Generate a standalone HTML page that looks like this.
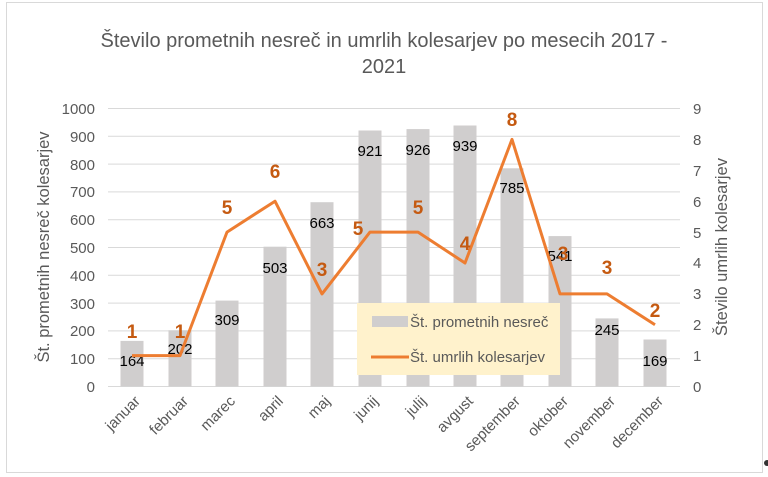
<!DOCTYPE html>
<html><head><meta charset="utf-8"><style>
body{margin:0;background:#fff;}
svg{display:block;font-family:"Liberation Sans",Calibri,sans-serif;}
</style></head><body>
<svg width="768" height="477" viewBox="0 0 768 477">
<rect x="6.5" y="2.5" width="756" height="470" fill="#fff" stroke="#d9d9d9"/>
<text x="384" y="47" text-anchor="middle" font-size="20" fill="#595959">Število prometnih nesreč in umrlih kolesarjev po mesecih 2017 -</text>
<text x="384" y="73" text-anchor="middle" font-size="20" fill="#595959">2021</text>
<g stroke="#d9d9d9" stroke-width="1">
<line x1="108" x2="680" y1="108.5" y2="108.5"/><line x1="108" x2="680" y1="136.3" y2="136.3"/><line x1="108" x2="680" y1="164.1" y2="164.1"/><line x1="108" x2="680" y1="191.9" y2="191.9"/><line x1="108" x2="680" y1="219.7" y2="219.7"/><line x1="108" x2="680" y1="247.5" y2="247.5"/><line x1="108" x2="680" y1="275.3" y2="275.3"/><line x1="108" x2="680" y1="303.1" y2="303.1"/><line x1="108" x2="680" y1="330.9" y2="330.9"/><line x1="108" x2="680" y1="358.7" y2="358.7"/><line x1="108" x2="680" y1="386.5" y2="386.5"/>
</g>
<g font-size="15" fill="#595959" text-anchor="end">
<text x="95" y="114">1000</text><text x="95" y="142">900</text><text x="95" y="170">800</text><text x="95" y="197">700</text><text x="95" y="225">600</text><text x="95" y="253">500</text><text x="95" y="281">400</text><text x="95" y="309">300</text><text x="95" y="336">200</text><text x="95" y="364">100</text><text x="95" y="392">0</text>
</g>
<g font-size="15" fill="#595959" text-anchor="start">
<text x="693" y="114">9</text><text x="693" y="145">8</text><text x="693" y="176">7</text><text x="693" y="207">6</text><text x="693" y="238">5</text><text x="693" y="268">4</text><text x="693" y="299">3</text><text x="693" y="330">2</text><text x="693" y="361">1</text><text x="693" y="392">0</text>
</g>
<text transform="translate(49,247) rotate(-90)" text-anchor="middle" font-size="16.5" fill="#595959">Št. prometnih nesreč kolesarjev</text>
<text transform="translate(727,247) rotate(-90)" text-anchor="middle" font-size="16.5" fill="#595959">Število umrlih kolesarjev</text>
<g fill="#d0cece">
<rect x="120.5" y="340.9" width="23" height="45.6"/>
<rect x="168.5" y="330.3" width="23" height="56.2"/>
<rect x="215.5" y="300.6" width="23" height="85.9"/>
<rect x="263.5" y="246.7" width="23" height="139.8"/>
<rect x="310.5" y="202.2" width="23" height="184.3"/>
<rect x="358.5" y="130.5" width="23" height="256"/>
<rect x="406.5" y="129.1" width="23" height="257.4"/>
<rect x="453.5" y="125.5" width="23" height="261"/>
<rect x="500.5" y="168.3" width="23" height="218.2"/>
<rect x="548.5" y="236.1" width="23" height="150.4"/>
<rect x="595.5" y="318.4" width="23" height="68.1"/>
<rect x="643.5" y="339.5" width="23" height="47"/>
</g>
<g font-size="15" fill="#000" text-anchor="middle">
<text x="132" y="366">164</text><text x="180" y="354">202</text><text x="227" y="325">309</text><text x="275" y="273">503</text><text x="322" y="228">663</text><text x="370" y="156">921</text><text x="418" y="155">926</text><text x="465" y="151">939</text><text x="512" y="193">785</text><text x="560" y="261">541</text><text x="607" y="335">245</text><text x="655" y="366">169</text>
</g>
<rect x="357" y="303" width="203" height="72" fill="#fff2cc"/>
<rect x="372" y="316" width="36" height="11" fill="#d0cece"/>
<text x="410" y="327" font-size="15" fill="#595959">Št. prometnih nesreč</text>
<line x1="371" x2="409" y1="357" y2="357" stroke="#ed7d31" stroke-width="3"/>
<text x="410" y="362" font-size="15" fill="#595959">Št. umrlih kolesarjev</text>
<polyline fill="none" stroke="#ed7d31" stroke-width="3" stroke-linejoin="round" points="132,355.6 180,355.6 227,232.1 275,201.2 322,293.9 370,232.1 418,232.1 465,263 512,139.4 560,293.9 607,293.9 655,324.8"/>
<g font-size="19" font-weight="bold" fill="#c55a11" text-anchor="middle">
<text x="132" y="338">1</text><text x="180" y="338">1</text><text x="227" y="214">5</text><text x="275" y="178">6</text><text x="322" y="276">3</text><text x="358" y="235">5</text><text x="418" y="214">5</text><text x="465" y="250">4</text><text x="512" y="126">8</text><text x="563" y="260">3</text><text x="607" y="274">3</text><text x="655" y="317">2</text>
</g>
<g font-size="15" fill="#595959" text-anchor="end">
<text transform="translate(141,402) rotate(-45)">januar</text>
<text transform="translate(189,402) rotate(-45)">februar</text>
<text transform="translate(236,402) rotate(-45)">marec</text>
<text transform="translate(284,402) rotate(-45)">april</text>
<text transform="translate(331,402) rotate(-45)">maj</text>
<text transform="translate(379,402) rotate(-45)">junij</text>
<text transform="translate(427,402) rotate(-45)">julij</text>
<text transform="translate(474,402) rotate(-45)">avgust</text>
<text transform="translate(521,402) rotate(-45)">september</text>
<text transform="translate(569,402) rotate(-45)">oktober</text>
<text transform="translate(616,402) rotate(-45)">november</text>
<text transform="translate(664,402) rotate(-45)">december</text>
</g>
<circle cx="767" cy="463" r="3" fill="#333"/>
</svg>
</body></html>
